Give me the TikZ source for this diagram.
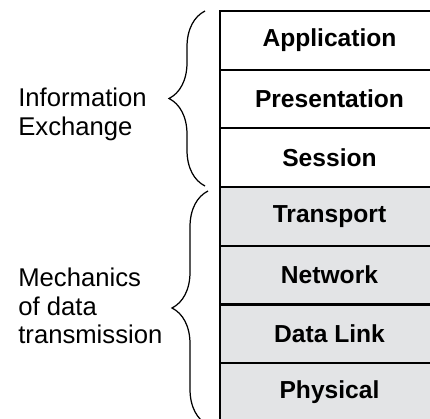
\documentclass[tikz,border=0pt]{standalone}
\usepackage{fontspec}
\setmainfont{Liberation Sans}
\usetikzlibrary{decorations.pathreplacing}
\definecolor{osiupper}{rgb}{1.0,1.0,1.0}
\definecolor{osilower}{rgb}{0.8902,0.8941,0.9020}

\begin{document}
\begin{tikzpicture}[x=0.02cm,y=-0.02cm,
  layer/.style={draw=black,line width=1.2pt,minimum width=4.38cm,minimum height=1.174cm,inner sep=0pt,font=\bfseries\fontsize{14pt}{16pt}\selectfont},
  groupbrace/.style={decorate,decoration={brace,amplitude=0.72cm},line width=0.7pt},
  grouplabel/.style={anchor=north west,inner sep=0pt,align=left,font=\fontsize{14.6pt}{16.2pt}\selectfont}]
\clip (0,0) rectangle (430,419);
\node[layer,fill=osiupper] (application) at (329.5,40.35) {Application};
\node[layer,fill=osiupper] (presentation) at (329.5,99.05) {Presentation};
\node[layer,fill=osiupper] (session) at (329.5,157.75) {Session};
\node[layer,fill=osilower] (transport) at (329.5,216.45) {Transport};
\node[layer,fill=osilower] (network) at (329.5,275.15) {Network};
\node[layer,fill=osilower] (datalink) at (329.5,333.85) {Data Link};
\node[layer,fill=osilower] (physical) at (329.5,392.55) {Physical};
\coordinate (infotop) at (205,11);
\coordinate (infobot) at (205,186);
\coordinate (mechtop) at (208,191);
\coordinate (mechbot) at (208,425);
\draw[groupbrace] (infobot) -- (infotop);
\draw[groupbrace] (mechbot) -- (mechtop);
\node[grouplabel] (info) at (18,88) {Information\\Exchange};
\node[grouplabel] (mech) at (18,268) {Mechanics\\of data\\transmission};
\end{tikzpicture}
\end{document}
